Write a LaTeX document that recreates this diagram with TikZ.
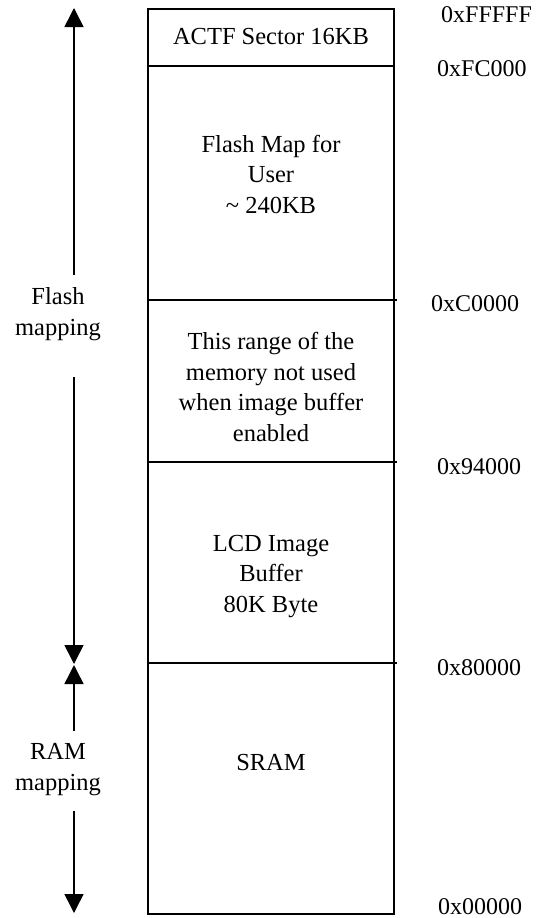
\documentclass[tikz,border=0pt]{standalone}
\usepackage{fontspec}
\setmainfont{Liberation Serif}
\usetikzlibrary{arrows.meta}
\begin{document}
\begin{tikzpicture}[x=1pt,y=-1pt,
  boxline/.style={line width=1.6pt},
  addr/.style={font=\fontsize{24}{30}\selectfont, anchor=base west, inner sep=0pt},
  blocktxt/.style={font=\fontsize{24.5}{30.5}\selectfont, align=center, anchor=base, inner sep=0pt},
  arr/.style={line width=1.5pt, -{Triangle[width=19pt,length=19pt]}}]
\useasboundingbox (0,0) rectangle (537,918);
% memory column
\draw[boxline] (148,9) rectangle (394,914);
\draw[boxline] (148,66) -- (394,66);
\draw[boxline] (148,300) -- (397,300);
\draw[boxline] (148,462) -- (397,462);
\draw[boxline] (148,663) -- (397,663);
% region texts (anchor = baseline of last line)
\node[blocktxt] (actf) at (271,44) {ACTF Sector 16KB};
\node[blocktxt] (user) at (271,213) {Flash Map for\\User\\\textasciitilde{} 240KB};
\node[blocktxt] (unused) at (271,441) {This range of the\\memory not used\\when image buffer\\enabled};
\node[blocktxt] (lcd) at (271,612) {LCD Image\\Buffer\\80K Byte};
\node[blocktxt] (sram) at (271,770) {SRAM};
% addresses
\node[addr] (aFFFFF) at (441,22) {0xFFFFF};
\node[addr] (aFC000) at (437,76) {0xFC000};
\node[addr] (aC0000) at (431,311) {0xC0000};
\node[addr] (a94000) at (437,474) {0x94000};
\node[addr] (a80000) at (437,675) {0x80000};
\node[addr] (a00000) at (438,914) {0x00000};
% mapping labels
\node[blocktxt] (flashlbl) at (58,335) {Flash\\mapping};
\node[blocktxt] (ramlbl) at (58,790) {RAM\\mapping};
% arrows
\coordinate (ftop) at (74,8);
\coordinate (fa) at (74,275);
\coordinate (fb) at (74,377);
\coordinate (fbot) at (74,664);
\coordinate (rtop) at (74,665);
\coordinate (ra) at (74,731);
\coordinate (rb) at (74,811);
\coordinate (rbot) at (74,913);
\draw[arr] (fa) -- (ftop);
\draw[arr] (fb) -- (fbot);
\draw[arr] (ra) -- (rtop);
\draw[arr] (rb) -- (rbot);
\end{tikzpicture}
\end{document}
